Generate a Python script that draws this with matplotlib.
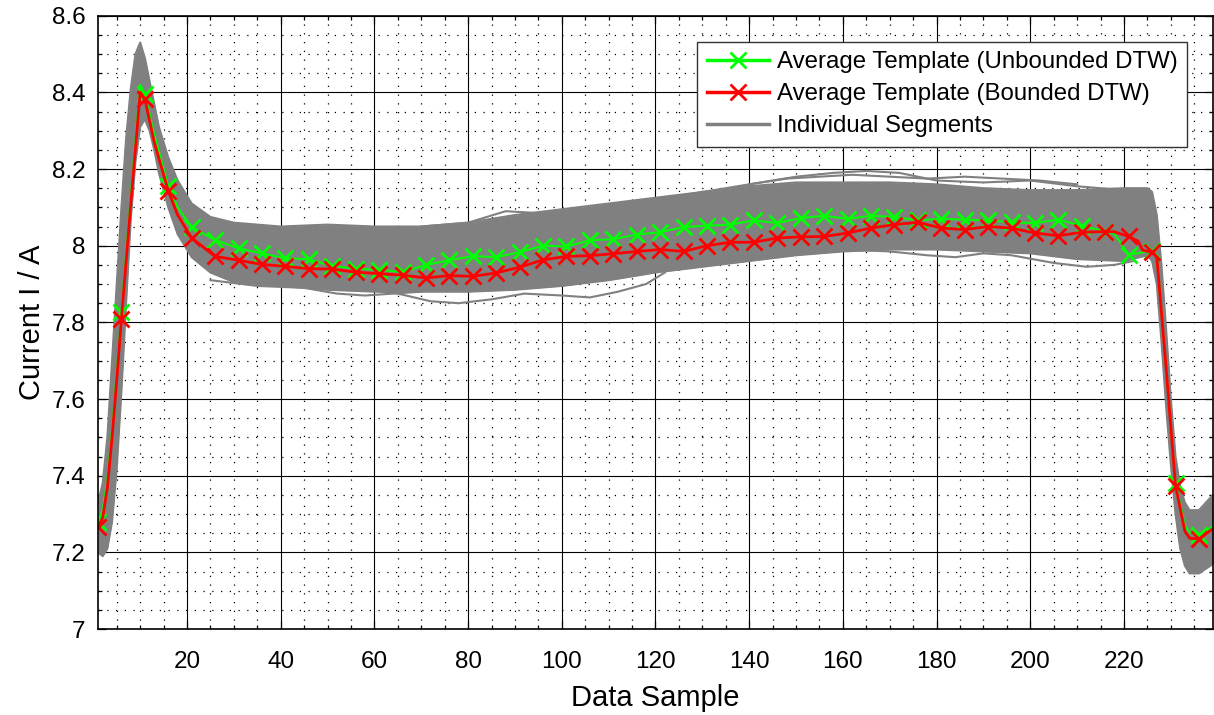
import numpy as np
import matplotlib
matplotlib.use("Agg")
import matplotlib.pyplot as plt
from matplotlib.ticker import MultipleLocator, FormatStrFormatter

plt.rcParams['font.family'] = ['Liberation Sans', 'DejaVu Sans']

# ---- averaged templates (sample index -> current in A) ----
tmpl_samples = [1, 2, 3, 4, 5, 6, 8, 10, 11, 13, 16, 18, 21,
                26, 31, 36, 41, 46, 51, 56, 61, 66, 71,
                76, 81, 86, 91, 96, 101, 106, 111, 116, 121,
                126, 131, 136, 141, 146, 151, 156, 161, 166, 171,
                176, 181, 186, 191, 196, 201, 206, 211, 216,
                218, 221, 223, 224, 226, 227, 229, 231, 233, 234, 236, 239]

bounded_dtw = [7.265, 7.29, 7.37, 7.50, 7.65, 7.81, 8.11, 8.40, 8.383, 8.27, 8.143, 8.08, 8.020,
               7.972, 7.962, 7.951, 7.946, 7.940, 7.939, 7.931, 7.927, 7.923, 7.916,
               7.922, 7.920, 7.929, 7.944, 7.963, 7.972, 7.974, 7.979, 7.985, 7.990,
               7.985, 8.000, 8.009, 8.009, 8.020, 8.023, 8.024, 8.033, 8.046, 8.055,
               8.061, 8.046, 8.042, 8.050, 8.046, 8.033, 8.026, 8.035, 8.037,
               8.036, 8.024, 8.012, 7.988, 7.983, 7.970, 7.680, 7.374, 7.255, 7.237, 7.235, 7.262]

unbounded_dtw = [7.28, 7.31, 7.39, 7.52, 7.67, 7.827, 8.13, 8.42, 8.396, 8.29, 8.156, 8.10, 8.048,
                 8.015, 7.993, 7.980, 7.967, 7.965, 7.947, 7.940, 7.937, 7.931, 7.950,
                 7.962, 7.973, 7.970, 7.983, 8.000, 7.998, 8.014, 8.017, 8.029, 8.035,
                 8.049, 8.052, 8.055, 8.066, 8.059, 8.072, 8.078, 8.070, 8.078, 8.075,
                 8.066, 8.070, 8.068, 8.066, 8.061, 8.059, 8.068, 8.052, 8.037,
                 8.030, 7.977, 7.980, 7.983, 7.985, 7.975, 7.680, 7.381, 7.270, 7.252, 7.246, 7.268]

# ---- spread of the individual segments ----
band_samples = [1, 2, 3, 4, 5, 6, 7, 8, 9, 10, 11, 12, 13, 14, 16, 18, 21, 25, 30,
                40, 50, 60, 70, 80, 90, 100, 110, 120, 130, 140, 150, 160, 170, 180, 190,
                200, 210, 220, 225, 226, 227, 228, 229, 230, 231, 232, 233, 234, 236, 239]
band_upper = [7.33, 7.38, 7.50, 7.70, 7.90, 8.10, 8.28, 8.41, 8.50, 8.53, 8.49, 8.43, 8.37, 8.31,
              8.23, 8.17, 8.11, 8.075, 8.06,
              8.05, 8.055, 8.05, 8.05, 8.06, 8.08, 8.095, 8.11, 8.125, 8.14, 8.155, 8.165,
              8.165, 8.165, 8.16, 8.15, 8.145, 8.145, 8.15,
              8.15, 8.14, 8.08, 7.95, 7.78, 7.60, 7.45, 7.37, 7.33, 7.31, 7.31, 7.35]
band_lower = [7.20, 7.19, 7.21, 7.28, 7.42, 7.62, 7.85, 8.07, 8.22, 8.31, 8.33, 8.30, 8.25, 8.19,
              8.10, 8.03, 7.97, 7.93, 7.905,
              7.895, 7.885, 7.88, 7.88, 7.88, 7.885, 7.895, 7.91, 7.93, 7.945, 7.96, 7.975,
              7.985, 7.99, 7.99, 7.985, 7.98, 7.965, 7.96,
              7.975, 7.96, 7.90, 7.75, 7.58, 7.43, 7.30, 7.21, 7.165, 7.145, 7.145, 7.17]

# a few segments that stray outside the main bundle
stray_samples = [
    [120, 130, 140, 150, 158, 165, 172, 180, 190, 200, 210, 220, 225],
    [70, 80, 88, 95, 100, 108, 115, 122],
    [55, 65, 72, 78, 85, 92, 100, 106, 112, 118, 122],
    [160, 170, 178, 184, 190, 196, 205, 212, 218, 222],
    [25, 35, 45, 52, 58, 64, 70],
    [140, 148, 155, 162, 170, 178, 186, 194, 202, 210],
]
stray_values = [
    [8.12, 8.14, 8.16, 8.18, 8.19, 8.195, 8.19, 8.17, 8.165, 8.17, 8.155, 8.145, 8.14],
    [8.05, 8.06, 8.09, 8.085, 8.07, 8.10, 8.115, 8.12],
    [7.89, 7.875, 7.855, 7.85, 7.86, 7.875, 7.87, 7.865, 7.88, 7.90, 7.93],
    [7.99, 7.985, 7.975, 7.97, 7.98, 7.975, 7.955, 7.945, 7.95, 7.96],
    [7.91, 7.895, 7.89, 7.875, 7.87, 7.875, 7.88],
    [8.16, 8.175, 8.18, 8.185, 8.18, 8.175, 8.18, 8.175, 8.17, 8.16],
]

x_ticks = [20, 40, 60, 80, 100, 120, 140, 160, 180, 200, 220]

seg_color = '#808080'
fig = plt.figure(figsize=(12.14, 7.15), dpi=100)
ax = fig.add_axes([98 / 1214, 86 / 715, 1115 / 1214, 613.3 / 715])

ax.fill_between(band_samples, band_lower, band_upper, color=seg_color, lw=0, zorder=2)
ax.plot(band_samples, band_upper, color=seg_color, lw=1.5, zorder=2)
h_seg, = ax.plot(band_samples, band_lower, color=seg_color, lw=1.5, zorder=2)
for xs, ys in zip(stray_samples, stray_values):
    ax.plot(xs, ys, color=seg_color, lw=1.5, zorder=2)

marks = [(s - 1) % 5 == 0 for s in tmpl_samples]
h_unb, = ax.plot(tmpl_samples, unbounded_dtw, color='#00FF00', lw=1.5, marker='x',
                 ms=12, mew=2, markevery=marks, zorder=3)
h_bnd, = ax.plot(tmpl_samples, bounded_dtw, color='#FF0000', lw=2.0, marker='x',
                 ms=12, mew=2, markevery=marks, zorder=4)

ax.set_xlim(1, 239)
ax.set_ylim(7, 8.6)
ax.set_xticks(x_ticks)
ax.xaxis.set_minor_locator(MultipleLocator(5))
ax.yaxis.set_major_locator(MultipleLocator(0.2))
ax.yaxis.set_minor_locator(MultipleLocator(0.05))
ax.yaxis.set_major_formatter(FormatStrFormatter('%g'))

ax.set_axisbelow(True)
ax.grid(which='major', color='black', lw=0.8, ls='-')
ax.grid(which='minor', color='black', lw=0.9, ls=(0, (1, 6)))
ax.tick_params(which='both', direction='in', top=True, right=True, labelsize=17.5,
               width=0.9, color='black')
ax.tick_params(which='major', length=6)
ax.tick_params(axis='x', which='major', pad=16)
ax.tick_params(axis='y', which='major', pad=9)
ax.tick_params(which='minor', length=3)
for sp in ax.spines.values():
    sp.set_linewidth(1.2)
    sp.set_zorder(5)

ax.set_xlabel('Data Sample', fontsize=21, labelpad=8)
ax.set_ylabel('Current I / A', fontsize=21, labelpad=4)

leg = ax.legend([h_unb, h_bnd, h_seg],
                ['Average Template (Unbounded DTW)', 'Average Template (Bounded DTW)',
                 'Individual Segments'],
                loc='upper right', bbox_to_anchor=(0.9767, 0.9576), fontsize=17.3,
                fancybox=False, framealpha=1, edgecolor='#333333', handlelength=2.6,
                handletextpad=0.3, labelspacing=0.42, borderpad=0.4, borderaxespad=0)
leg.get_frame().set_linewidth(1.0)
leg.set_zorder(10)
for ln in leg.get_lines():
    ln.set_linewidth(2.5)

fig.savefig('out.png', dpi=100)
